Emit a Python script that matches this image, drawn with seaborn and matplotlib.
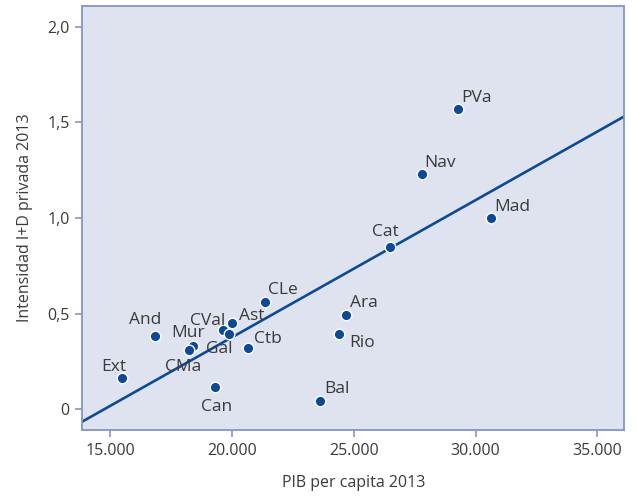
import pandas as pd
import matplotlib.pyplot as plt
import seaborn as sns
from matplotlib.ticker import FuncFormatter

# Data
regions = ["PVa", "Nav", "Mad", "Cat", "CLe", "Ara", "Rio", "Ctb", "Bal",
           "Ast", "CVal", "Gal", "Mur", "CMa", "And", "Ext", "Can"]
pib = [29300, 27790, 30650, 26490, 21370, 24670, 24390, 20640, 23600,
       20010, 19610, 19860, 18380, 18220, 16820, 15460, 19290]
intensidad = [1.569, 1.229, 1.002, 0.850, 0.558, 0.492, 0.393, 0.321, 0.042,
              0.451, 0.414, 0.393, 0.330, 0.309, 0.382, 0.162, 0.115]

df = pd.DataFrame({"region": regions, "pib": pib, "id": intensidad})

# label offsets in pixels (dx, dy up) from each dot
label_offsets = {
    "PVa": (18, 7), "Nav": (18.7, 7.6), "Mad": (21, 7), "Cat": (-4.6, 11),
    "CLe": (17.8, 8.3), "Ara": (17.8, 7.7), "Rio": (22.7, -13),
    "Ctb": (20.3, 4.4), "Bal": (17.3, 8.3), "Ast": (19.8, 2.7),
    "CVal": (-14.7, 5), "Gal": (-9, -18.7), "Mur": (-4.7, 9.3),
    "CMa": (-5.7, -20.7), "And": (-10, 11.7), "Ext": (-7.3, 7.3),
    "Can": (1.5, -24),
}

blue = "#0B4A98"
spine_col = "#8495C6"
text_col = "#3A3A3A"

sns.set_style("ticks")
plt.rcParams['font.family'] = ['Open Sans', 'DejaVu Sans']

fig = plt.figure(figsize=(6.37, 4.96), dpi=100)
ax = fig.add_axes([0.129, 0.133, 0.851, 0.855])
ax.set_facecolor("#DFE3EF")

ax.set_xlim(13840, 36110)
ax.set_ylim(-0.11, 2.11)

# regression line across the whole plot
sns.regplot(data=df, x="pib", y="id", scatter=False, ci=None, truncate=False,
            color=blue, line_kws={"linewidth": 1.9}, ax=ax)

sns.scatterplot(data=df, x="pib", y="id", color=blue, s=58,
                edgecolor="white", linewidth=1.0, zorder=3, ax=ax)

px = 0.72  # pixels -> points at 100 dpi
for r, x, y in zip(regions, pib, intensidad):
    dx, dy = label_offsets[r]
    ax.annotate(r, (x, y), xytext=(dx * px, dy * px), textcoords="offset points",
                ha="center", va="baseline", fontsize=12.5, color=text_col, zorder=4)

ax.set_xlim(13840, 36110)
ax.set_ylim(-0.11, 2.11)
ax.set_xticks([15000, 20000, 25000, 30000, 35000])
ax.set_yticks([0, 0.5, 1.0, 1.5, 2.0])
ax.xaxis.set_major_formatter(FuncFormatter(lambda v, p: f"{v:,.0f}".replace(",", ".")))
ax.yaxis.set_major_formatter(FuncFormatter(lambda v, p: "0" if v == 0 else f"{v:.1f}".replace(".", ",")))

for s in ax.spines.values():
    s.set_color(spine_col)
    s.set_linewidth(1.3)
ax.tick_params(colors=spine_col, length=5, width=1.2, labelsize=11.5,
               labelcolor=text_col, pad=4)

ax.set_xlabel("PIB per capita 2013", fontsize=11.5, color=text_col, labelpad=12)
ax.set_ylabel("Intensidad I+D privada 2013", fontsize=11.5, color=text_col, labelpad=10)

plt.savefig("out.png", dpi=100)
